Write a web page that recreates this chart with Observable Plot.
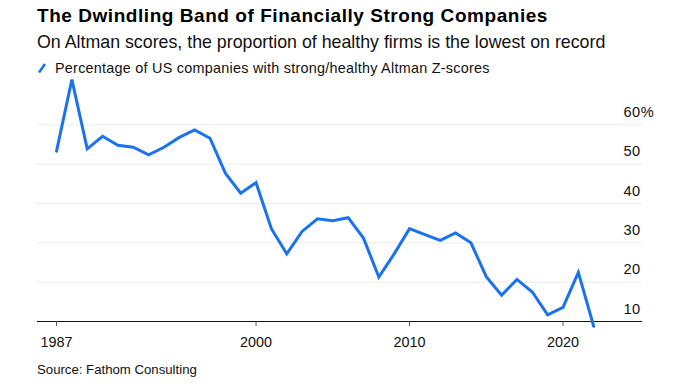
<!DOCTYPE html>
<html>
<head>
<meta charset="utf-8">
<script src="https://cdn.jsdelivr.net/npm/d3@7"></script>
<script src="https://cdn.jsdelivr.net/npm/@observablehq/plot@0.6"></script>
<style>
  html, body { margin: 0; padding: 0; background: #fff; }
  body { width: 684px; height: 384px; position: relative; overflow: hidden;
         font-family: "Liberation Sans", Arial, Helvetica, sans-serif; color: #000; }
  .t { position: absolute; left: 37px; white-space: nowrap; line-height: 1; }
  #title { top: 5.6px; font-size: 19px; font-weight: bold; letter-spacing: 0.55px; }
  #subtitle { top: 34.2px; font-size: 17.8px; color: #111; }
  #legend { top: 61.2px; left: 37px; font-size: 14.4px; letter-spacing: 0.25px; color: #111; }
  #legend svg { vertical-align: baseline; margin-right: 6px; }
  #chart { position: absolute; left: 0; top: 78px; }
  #source { top: 363.3px; font-size: 13.2px; color: #111; }
</style>
</head>
<body>
<div class="t" id="title">The Dwindling Band of Financially Strong Companies</div>
<div class="t" id="subtitle">On Altman scores, the proportion of healthy firms is the lowest on record</div>
<div class="t" id="legend"><svg width="12" height="10" viewBox="0 0 12 10"><line x1="2" y1="9.5" x2="8" y2="1" stroke="#1a73ec" stroke-width="2.6" stroke-linecap="butt"/></svg>Percentage of US companies with strong/healthy Altman Z-scores</div>
<div id="chart"></div>
<div class="t" id="source">Source: Fathom Consulting</div>
<script>
const years = [1987,1988,1989,1990,1991,1992,1993,1994,1995,1996,1997,1998,1999,2000,2001,2002,2003,2004,2005,2006,2007,2008,2009,2010,2011,2012,2013,2014,2015,2016,2017,2018,2019,2020,2021,2022];
const values = [53.3,71.5,53.9,57.1,54.8,54.3,52.4,54.3,56.8,58.7,56.6,47.7,42.6,45.3,33.6,27.2,32.9,36.1,35.6,36.4,31.2,21.3,27.2,33.6,32.1,30.6,32.5,30.0,21.4,16.7,20.7,17.5,11.7,13.6,22.5,8.8];
const xTicks = [1987, 2000, 2010, 2020];
const yTicks = [10, 20, 30, 40, 50, 60];
const gridTicks = [20, 30, 40, 50, 60];

const data = years.map((y, i) => ({year: y, value: values[i]}));

const chart = Plot.plot({
  width: 684,
  height: 280,
  marginLeft: 37,
  marginRight: 42,
  marginTop: 7,
  marginBottom: 37,
  style: {fontFamily: '"Liberation Sans", Arial, Helvetica, sans-serif', fontSize: "14px", color: "#111", background: "#fff", overflow: "visible"},
  x: {domain: [1985.76, 2025.18]},
  y: {domain: [10, 70]},
  marks: [
    Plot.gridY(gridTicks, {stroke: "#ececec", strokeOpacity: 1, strokeWidth: 1}),
    Plot.ruleY([10], {stroke: "#111", strokeWidth: 1}),
    Plot.axisX({ticks: xTicks, tickFormat: d => String(d), tickSize: 5, tickPadding: 10, fontSize: 14.4, stroke: "#555", label: null}),
    Plot.axisY({anchor: "right", ticks: yTicks, tickSize: 0, tickPadding: 3, textAnchor: "start", dx: -22, dy: -12.5, fontSize: 14.6, tickFormat: d => d === 60 ? "60%" : String(d), label: null, style: {letterSpacing: "0.5px"}}),
    Plot.line(data, {x: "year", y: "value", stroke: "#1a73ec", strokeWidth: 3, strokeLinejoin: "miter", strokeMiterlimit: 4})
  ]
});
chart.querySelectorAll('g[aria-label="y-axis tick label"] text').forEach(t => t.setAttribute("letter-spacing", "0.5"));
document.getElementById("chart").appendChild(chart);
</script>
</body>
</html>
